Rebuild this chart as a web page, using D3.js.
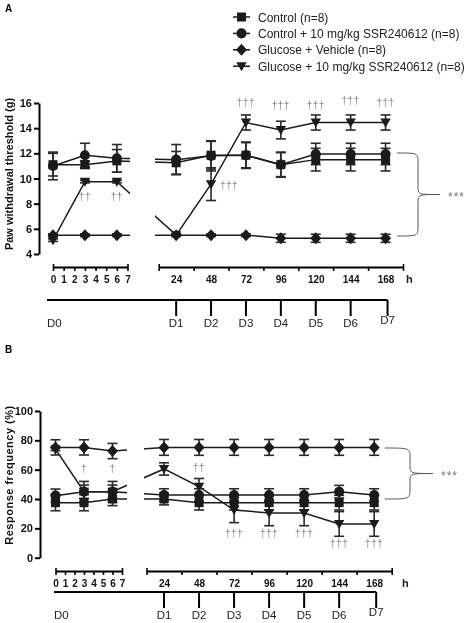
<!DOCTYPE html>
<html><head><meta charset="utf-8">
<script src="https://cdn.jsdelivr.net/npm/d3@7"></script>
<style>
body{margin:0;background:#fff}
svg{display:block;font-family:"Liberation Sans",Arial,sans-serif;filter:grayscale(1)}
</style>
</head><body>
<svg id="c" width="470" height="623"></svg>
<script>
// ---------- DATA ----------
const hours = [0, 3, 6, 24, 48, 72, 96, 120, 144, 168];
const seriesNames = ["Control (n=8)", "Control + 10 mg/kg SSR240612 (n=8)", "Glucose + Vehicle (n=8)", "Glucose + 10 mg/kg SSR240612 (n=8)"];
const seriesSymbols = ["square", "circle", "diamond", "triangleDown"];

// Panel A: paw withdrawal threshold (g)
const pwtControl        = [11.1, 11.1, 11.4, 11.25, 11.85, 11.85, 11.1, 11.5, 11.5, 11.5];
const pwtControlSem     = [0.9, 0.3, 0.9, 0.9, 1.1, 1.05, 1.0, 0.9, 0.9, 0.9];
const pwtControlDrug    = [11.0, 11.85, 11.6, 11.5, 11.8, 11.85, 11.1, 11.95, 11.95, 11.95];
const pwtControlDrugSem = [1.1, 0.95, 1.1, 1.2, 1.2, 1.0, 0.95, 0.85, 0.85, 0.85];
const pwtGlucose        = [5.5, 5.5, 5.5, 5.5, 5.5, 5.5, 5.25, 5.25, 5.25, 5.25];
const pwtGlucoseSem     = [0.1, 0.1, 0.1, 0.1, 0.1, 0.1, 0.32, 0.32, 0.32, 0.32];
const pwtGlucoseDrug    = [5.1, 9.75, 9.75, 5.5, 9.55, 14.45, 13.85, 14.45, 14.45, 14.45];
const pwtGlucoseDrugSem = [0.1, 0.1, 0.1, 0.1, 1.3, 0.6, 0.7, 0.6, 0.6, 0.6];
const pwtTicks = [4, 6, 8, 10, 12, 14, 16];
const pwtDaggerHours  = [3, 6, 48, 72, 96, 120, 144, 168];
const pwtDaggerValues = [8.6, 8.6, 9.45, 16.05, 15.85, 15.85, 16.2, 16.05];
const pwtDaggerText   = ["††", "††", "†††", "†††", "†††", "†††", "†††", "†††"];

// Panel B: response frequency (%)
const rfControl        = [37.5, 37.5, 40, 40, 37.5, 37.5, 37.5, 37.5, 37.5, 37.5];
const rfControlSem     = [5.5, 5.5, 4.5, 4, 5, 5, 5, 5, 5, 5];
const rfControlDrug    = [42.3, 45, 45, 42.7, 42.7, 42.7, 42.7, 42.7, 45, 42.7];
const rfControlDrugSem = [4.5, 4.5, 4.5, 4.3, 4.3, 4.3, 4.3, 4.3, 4.3, 4.3];
const rfGlucose        = [75.2, 75.2, 72.7, 75.2, 75.2, 75.2, 75.2, 75.2, 75.2, 75.2];
const rfGlucoseSem     = [5.2, 5.2, 5.2, 5.4, 5.4, 5.4, 5.4, 5.4, 5.4, 5.4];
const rfGlucoseDrug    = [74, 45, 45, 60.5, 48.4, 32.5, 30.5, 30.5, 23, 23];
const rfGlucoseDrugSem = [1, 7, 7, 4.2, 5.6, 8.6, 8.7, 8.7, 8.4, 8.4];
const rfTicks = [0, 20, 40, 60, 80, 100];
const rfDaggerHours  = [3, 6, 48, 72, 96, 120, 144, 168];
const rfDaggerValues = [61, 61, 62, 16.8, 16.8, 16.8, 10, 10];
const rfDaggerText   = ["†", "†", "††", "†††", "†††", "†††", "†††", "†††"];

const earlyTicks = [0, 1, 2, 3, 4, 5, 6, 7];
const lateTicks = [12, 36, 60, 84, 108, 132, 156, 180];
const lateLabels = [24, 48, 72, 96, 120, 144, 168];
const dayLabels = ["D0", "D1", "D2", "D3", "D4", "D5", "D6", "D7"];
const dayHours = [0, 24, 48, 72, 96, 120, 144, 168];

// ---------- DRAWING ----------
const svg = d3.select("#c");
const INK = "#1b1b1b";

function symbolPath(type) {
  if (type === "square") return "M-4.5,-4.5h9v9h-9Z";
  if (type === "circle") return d3.symbol(d3.symbolCircle, 80)();
  if (type === "diamond") return "M0,-6L5.5,0L0,6L-5.5,0Z";
  return "M-5.2,-4L5.2,-4L0,5Z";
}

function drawPanel(cfg) {
  const g = svg.append("g");
  const xL = d3.scaleLinear().domain([0, 7]).range([cfg.xs[0], cfg.xs[1]]);
  const xR = d3.scaleLinear().domain([12, 180]).range([cfg.xs[2], cfg.xs[3]]);
  const x = d3.scaleLinear().domain([0, 7, 12, 180]).range(cfg.xs);
  const y = d3.scaleLinear().domain(cfg.yDomain).range(cfg.yRange);

  g.append("text").attr("x", 5).attr("y", cfg.letterY).attr("font-size", 10).attr("font-weight", "bold").text(cfg.letter);

  const ya = g.append("g").attr("transform", `translate(${cfg.yAxisX},0)`)
    .call(d3.axisLeft(y).tickValues(cfg.yTicks).tickSize(5).tickSizeOuter(0).tickPadding(2).tickFormat(d3.format("d")));
  ya.select(".domain").attr("stroke", "#000").attr("stroke-width", 2);
  ya.selectAll(".tick line").attr("stroke", "#000").attr("stroke-width", 2);
  ya.selectAll("text").attr("font-size", 11).attr("font-weight", "bold").attr("fill", "#111")
    .attr("font-family", "'Liberation Sans',Arial,sans-serif");

  g.append("text").attr("transform", `translate(${cfg.titleX},${cfg.titleY}) rotate(-90)`)
    .attr("text-anchor", "middle").attr("font-size", 11).attr("font-weight", "bold")
    .attr("letter-spacing", cfg.titleSpacing).attr("fill", "#111").text(cfg.title);

  function styleX(sel) {
    sel.select(".domain").attr("stroke", "#000").attr("stroke-width", 2);
    sel.selectAll(".tick line").attr("stroke", "#000").attr("stroke-width", 1.6);
    sel.selectAll("text").attr("font-size", 10).attr("font-weight", "bold").attr("fill", "#111")
      .attr("font-family", "'Liberation Sans',Arial,sans-serif");
  }
  const axL = g.append("g").attr("transform", `translate(0,${cfg.axisY})`)
    .call(d3.axisBottom(xL).tickValues(earlyTicks).tickSize(4).tickSizeOuter(0).tickPadding(5).tickFormat(d3.format("d")));
  styleX(axL);
  axL.selectAll(".tick line").filter(d => d === 0 || d === 7).attr("y1", -3).attr("y2", 4);
  const axR = g.append("g").attr("transform", `translate(0,${cfg.axisY})`)
    .call(d3.axisBottom(xR).tickValues(lateTicks).tickSize(4).tickSizeOuter(0).tickFormat(""));
  styleX(axR);
  axR.selectAll(".tick line").filter(d => d === 12 || d === 180).attr("y1", -3).attr("y2", 4);
  const axRL = g.append("g").attr("transform", `translate(0,${cfg.axisY})`)
    .call(d3.axisBottom(xR).tickValues(lateLabels).tickSize(0).tickPadding(9).tickFormat(d3.format("d")));
  axRL.select(".domain").remove();
  styleX(axRL);
  g.append("text").attr("x", cfg.hX).attr("y", cfg.axisY + 16).attr("font-size", 11)
    .attr("font-weight", "bold").attr("fill", "#222").text("h");

  const dayY = cfg.dayY;
  g.append("line").attr("x1", cfg.dayStart).attr("x2", xR(168) + 2).attr("y1", dayY).attr("y2", dayY)
    .attr("stroke", "#000").attr("stroke-width", 2);
  dayHours.forEach((h, i) => {
    const xx = i === 0 ? cfg.dayStart : xR(h) + (i === 7 ? 2 : 0);
    if (i > 0) g.append("line").attr("x1", xx).attr("x2", xx).attr("y1", dayY).attr("y2", dayY + 16)
      .attr("stroke", "#000").attr("stroke-width", 2);
    g.append("text").attr("x", xx).attr("y", dayY + (i === 7 ? 24 : 27))
      .attr("text-anchor", i === 0 ? "start" : "middle")
      .attr("font-size", 11.5).attr("fill", "#222").text(dayLabels[i]);
  });

  const clipId = "clip" + cfg.letter;
  const cp = svg.append("defs").append("clipPath").attr("id", clipId);
  cp.append("rect").attr("x", 0).attr("y", 0).attr("width", cfg.gap[0]).attr("height", 623);
  cp.append("rect").attr("x", cfg.gap[1]).attr("y", 0).attr("width", 470 - cfg.gap[1]).attr("height", 623);

  const line = d3.line().x(d => x(d.h)).y(d => y(d.v));
  const data = cfg.series.map((s, si) => hours.map((h, i) => ({ h, v: s.mean[i], e: s.sem[i], sym: seriesSymbols[si] })));

  const lg = g.append("g").attr("clip-path", `url(#${clipId})`);
  data.forEach(d => lg.append("path").attr("d", line(d)).attr("fill", "none")
    .attr("stroke", INK).attr("stroke-width", 1.5));

  const eg = g.append("g").attr("stroke", "#2a2a2a").attr("stroke-width", 1.6);
  data.forEach(d => d.forEach(p => {
    const cx = x(p.h), y1 = y(p.v + p.e), y2 = y(p.v - p.e);
    eg.append("line").attr("x1", cx).attr("x2", cx).attr("y1", y1).attr("y2", y2);
    eg.append("line").attr("x1", cx - 5).attr("x2", cx + 5).attr("y1", y1).attr("y2", y1);
    eg.append("line").attr("x1", cx - 5).attr("x2", cx + 5).attr("y1", y2).attr("y2", y2);
  }));

  data.forEach(d => d.forEach(p => {
    g.append("path").attr("d", symbolPath(p.sym)).attr("transform", `translate(${x(p.h)},${y(p.v)})`)
      .attr("fill", INK);
  }));

  const dg = g.append("g");
  cfg.daggerHours.forEach((h, i) => {
    const dx = cfg.daggerRight.includes(h) ? 18 : 0;
    dg.append("text").attr("x", x(h) + dx).attr("y", y(cfg.daggerValues[i]) + 4)
      .attr("text-anchor", "middle").attr("font-size", 10).attr("fill", "#8a8a8a")
      .attr("letter-spacing", 0.5).text(cfg.daggerText[i]);
  });

  const b = cfg.brace;
  const ym = (b.top + b.bot) / 2;
  const p = `M${b.x0},${b.top} C${b.xv},${b.top} ${b.xv},${b.top} ${b.xv},${b.top + 10}
    L${b.xv},${ym - 8} C${b.xv},${ym} ${b.xv},${ym} ${b.tip},${ym}
    C${b.xv},${ym} ${b.xv},${ym} ${b.xv},${ym + 8}
    L${b.xv},${b.bot - 10} C${b.xv},${b.bot} ${b.xv},${b.bot} ${b.x0},${b.bot}`;
  g.append("path").attr("d", p).attr("fill", "none").attr("stroke", "#555").attr("stroke-width", 1);
  dg.append("text").attr("x", b.tip + 8).attr("y", ym + 6).attr("font-size", 12).attr("fill", "#777")
    .attr("letter-spacing", 1).text("***");
}

drawPanel({
  letter: "A", letterY: 12,
  xs: [53, 127.5, 158.7, 403], axisY: 267, hX: 406,
  yDomain: [4, 16], yRange: [254, 103], yTicks: pwtTicks, yAxisX: 39,
  title: "Paw withdrawal threshold (g)", titleX: 13, titleY: 174, titleSpacing: 0,
  gap: [130, 155], dayY: 300, dayStart: 47,
  series: [
    { mean: pwtControl, sem: pwtControlSem },
    { mean: pwtControlDrug, sem: pwtControlDrugSem },
    { mean: pwtGlucose, sem: pwtGlucoseSem },
    { mean: pwtGlucoseDrug, sem: pwtGlucoseDrugSem }
  ],
  daggerHours: pwtDaggerHours, daggerValues: pwtDaggerValues, daggerText: pwtDaggerText, daggerRight: [48],
  brace: { x0: 397, xv: 418, tip: 440, top: 153, bot: 236 }
});

drawPanel({
  letter: "B", letterY: 353,
  xs: [55.5, 122, 146.5, 391.7], axisY: 571, hX: 402,
  yDomain: [0, 100], yRange: [557.7, 411], yTicks: rfTicks, yAxisX: 40,
  title: "Response frequency (%)", titleX: 13, titleY: 475, titleSpacing: 0.5,
  gap: [127, 144], dayY: 592, dayStart: 54,
  series: [
    { mean: rfControl, sem: rfControlSem },
    { mean: rfControlDrug, sem: rfControlDrugSem },
    { mean: rfGlucose, sem: rfGlucoseSem },
    { mean: rfGlucoseDrug, sem: rfGlucoseDrugSem }
  ],
  daggerHours: rfDaggerHours, daggerValues: rfDaggerValues, daggerText: rfDaggerText, daggerRight: [],
  brace: { x0: 385, xv: 410, tip: 433, top: 448, bot: 499 }
});

const leg = svg.append("g");
seriesNames.forEach((name, i) => {
  const cy = 17 + i * 16.4;
  leg.append("line").attr("x1", 233).attr("x2", 250).attr("y1", cy).attr("y2", cy)
    .attr("stroke", INK).attr("stroke-width", 1.5);
  leg.append("path").attr("d", symbolPath(seriesSymbols[i])).attr("transform", `translate(241.5,${cy})`).attr("fill", INK);
  leg.append("text").attr("x", 258).attr("y", cy + 4.5).attr("font-size", 12).attr("fill", "#222").text(name);
});
</script>
</body></html>
